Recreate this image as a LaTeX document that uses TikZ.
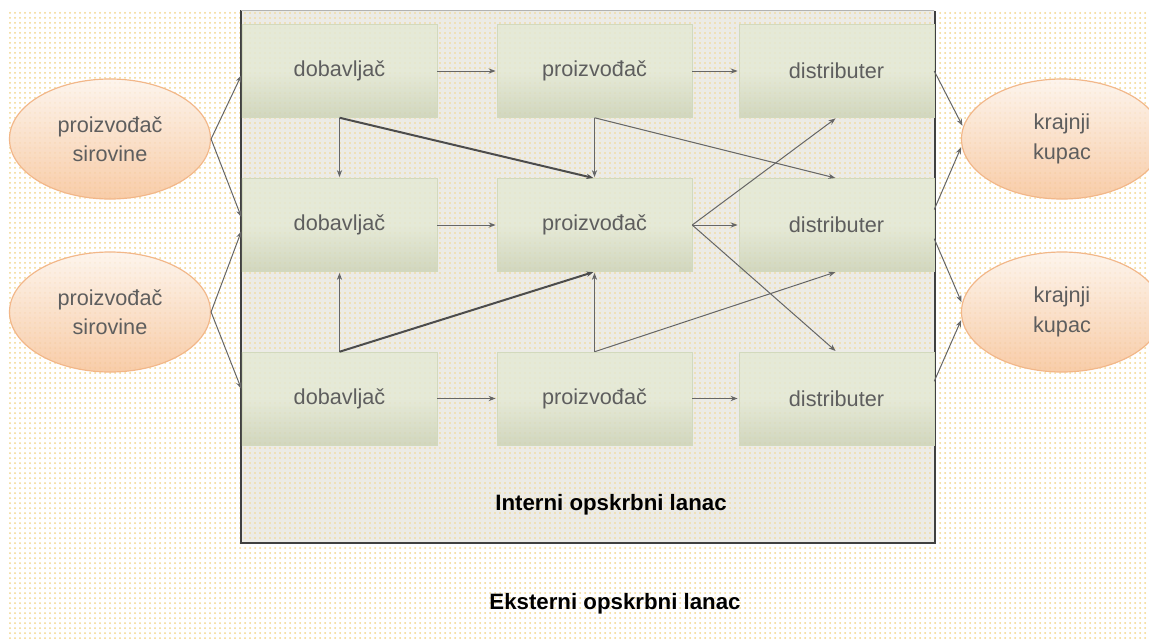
\documentclass[tikz,border=0pt]{standalone}
\usepackage{fontspec}
\setmainfont{Liberation Sans}
\usetikzlibrary{arrows.meta,patterns.meta,shapes.geometric}

\definecolor{dotcol}{HTML}{F4D58A}
\definecolor{framebg}{HTML}{ECEBE6}
\definecolor{boxtop}{HTML}{E4E9D4}
\definecolor{boxbot}{HTML}{CBD2B5}
\definecolor{boxline}{HTML}{D2D9BD}
\definecolor{elltop}{HTML}{FDF3EA}
\definecolor{ellbot}{HTML}{F7C49A}
\definecolor{elline}{HTML}{F2B789}
\definecolor{txtgray}{HTML}{5E5E5E}

\def\colA{339.5}
\def\colB{594.5}
\def\colC{836.5}
\def\rowA{71}
\def\rowB{225}
\def\rowC{398.5}

\begin{document}
\begin{tikzpicture}[x=0.03cm,y=-0.03cm,shorten >=1pt,->,>={Stealth[length=6pt,width=4.5pt]},line width=0.3mm,draw=black!60]
    \tikzstyle{stage}=[rectangle,draw=boxline,line width=0.4pt,top color=boxtop,bottom color=boxbot,middle color=boxtop,fill opacity=0.8,text opacity=1,minimum width=5.85cm,minimum height=2.79cm,inner sep=0pt,text=txtgray,font=\fontsize{18.5}{22}\selectfont]
    \tikzstyle{party}=[ellipse,draw=elline,line width=1pt,top color=elltop,bottom color=ellbot,fill opacity=0.85,text opacity=1,minimum width=6.03cm,minimum height=3.6cm,inner sep=0pt,align=center,text=txtgray,font=\fontsize{18.5}{25}\selectfont]
    \tikzstyle{annot}=[font=\bfseries\fontsize{19}{22}\selectfont,text=black]
    \tikzstyle{thick link}=[line width=0.6mm,draw=black!70]

    \useasboundingbox (0,0) rectangle (1149,638);

    % Background of the external chain
    \fill[white] (0,0) rectangle (1149,638);
    \fill[pattern={Dots[distance=0.15cm,radius=0.3mm]},pattern color=dotcol] (8,10) rectangle (1149,638);

    % Background of the internal chain
    \fill[framebg] (241,10) rectangle (935,543);
    \fill[pattern={Dots[distance=0.15cm,radius=0.28mm]},pattern color=dotcol] (241,10) rectangle (935,543);
    \draw[-,draw=black!75,line width=0.5mm] (241,10) -- (241,543) -- (935,543) -- (935,10);
    \draw[-,draw=black!30,line width=0.3mm] (241,10) -- (935,10);

    % Draw the raw material producers
    \node[party] (S-1) at (110,139) {proizvođač\\sirovine};
    \node[party] (S-2) at (110,312) {proizvođač\\sirovine};

    % Draw the suppliers
    \node[stage] (D-1) at (\colA,\rowA) {dobavljač};
    \node[stage] (D-2) at (\colA,\rowB) {dobavljač};
    \node[stage] (D-3) at (\colA,\rowC) {dobavljač};

    % Draw the producers
    \node[stage] (P-1) at (\colB,\rowA) {proizvođač};
    \node[stage] (P-2) at (\colB,\rowB) {proizvođač};
    \node[stage] (P-3) at (\colB,\rowC) {proizvođač};

    % Draw the distributers
    \node[stage] (R-1) at (\colC,\rowA) {distributer};
    \node[stage] (R-2) at (\colC,\rowB) {distributer};
    \node[stage] (R-3) at (\colC,\rowC) {distributer};

    % Draw the end customers
    \node[party] (K-1) at (1062,139) {krajnji\\kupac};
    \node[party] (K-2) at (1062,312) {krajnji\\kupac};

    % Raw material producers to suppliers
    \path (S-1.east) edge (D-1.182);
    \path (S-1.east) edge (D-2.176);
    \path (S-2.east) edge (D-2.183);
    \path (S-2.east) edge (D-3.175);

    % Along each row
    \path (D-1) edge (P-1);
    \path (P-1) edge (R-1);
    \path (D-2) edge (P-2);
    \path (P-2) edge (R-2);
    \path (D-3) edge (P-3);
    \path (P-3) edge (R-3);

    % Across the rows
    \path (D-1.south) edge (D-2.north);
    \path (D-1.south) edge[thick link] (P-2.north);
    \path (P-1.south) edge (P-2.north);
    \path (P-1.south) edge (R-2.north);
    \path (D-3.north) edge (D-2.south);
    \path (D-3.north) edge[thick link] (P-2.south);
    \path (P-3.north) edge (P-2.south);
    \path (P-3.north) edge (R-2.south);
    \path (P-2.east) edge (R-1.south);
    \path (P-2.east) edge (R-3.north);

    % Distributers to end customers
    \path (R-1.east) edge (K-1.173);
    \path (R-2.9) edge (K-1.184);
    \path (R-2.352) edge (K-2.175);
    \path (R-3.10) edge (K-2.184);

    % Annotate the chains
    \node[annot] (int) at (611,505) {Interni opskrbni lanac};
    \node[annot] (ext) at (615,604) {Eksterni opskrbni lanac};
\end{tikzpicture}
\end{document}
